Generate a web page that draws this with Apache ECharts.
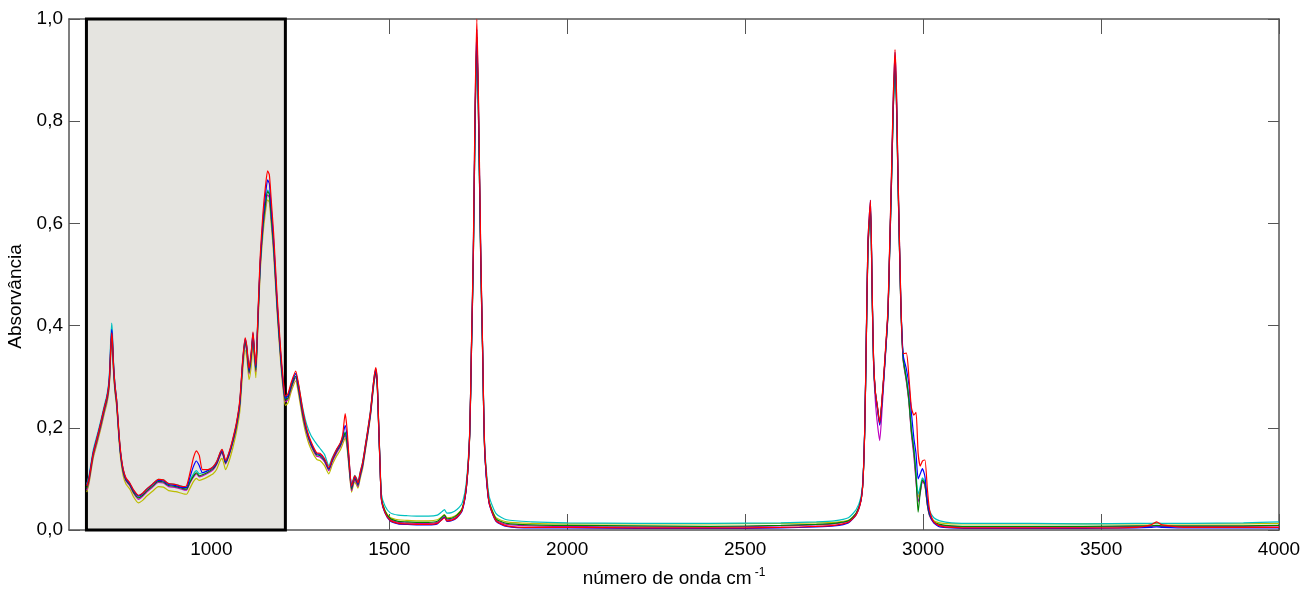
<!DOCTYPE html>
<html>
<head>
<meta charset="utf-8">
<script src="https://cdn.jsdelivr.net/npm/echarts/dist/echarts.min.js"></script>
<style>
html,body{margin:0;padding:0;background:#fff;}
#chart{width:1314px;height:601px;}
</style>
</head>
<body>
<div id="chart"></div>
<script>
// ---- data ----
const wavenumber = [
 650,656,668,680,690,700,706,711,714,717,720,722,725,729,734,740,745,752,760,
 771,782,795,807,818,835,851,865,880,900,920,930,940,950,958,966,975,990,1005,
 1015,1025,1030,1035,1040,1050,1060,1070,1080,1088,1095,1100,1106,1112,1117,1121,1125,1130,1137,
 1145,1152,1158,1163,1168,1175,1185,1195,1203,1208,1215,1225,1237,1245,1257,1268,1280,1296,1305,1318,
 1330,1340,1352,1362,1369,1376,1381,1386,1394,1399,1403,1408,1412,1418,1425,1433,1440,1447,1453,1458,1462,1466,1470,1474,
 1478,1488,1502,1525,1548,1580,1610,1635,1648,1655,1662,1675,1690,1705,1717,1726,1731,1736,1741,1746,1751,1757,1762,1768,1780,
 1800,1830,1900,2000,2200,2400,2600,2700,2750,2790,2812,2825,2831,2836,2840,2845,2852,2857,2861,2866,2872,
 2878,2885,2892,2901,2906,2911,2916,2921,2925,2929,2937,2944,2953,2960,2967,2974,2980,2986,2992,2998,3005,3012,3018,
 3030,3047,3080,3150,3300,3450,3600,3640,3656,3672,3750,3900,4000
];

const olive = [
 0.074,0.090,0.140,0.172,0.200,0.230,0.246,0.266,0.290,0.338,0.368,0.356,0.310,0.270,0.240,0.180,0.140,0.107,0.090,
 0.080,0.064,0.053,0.058,0.066,0.076,0.085,0.084,0.077,0.075,0.071,0.070,0.082,0.095,0.101,0.097,0.099,0.104,0.110,
 0.119,0.136,0.140,0.130,0.118,0.135,0.160,0.190,0.232,0.310,0.352,0.334,0.294,0.320,0.362,0.330,0.298,0.380,0.500,
 0.578,0.622,0.646,0.641,0.600,0.540,0.424,0.325,0.266,0.244,0.248,0.272,0.292,0.266,0.216,0.182,0.158,0.138,0.136,0.126,
 0.110,0.128,0.145,0.156,0.168,0.180,0.162,0.128,0.074,0.088,0.094,0.088,0.082,0.100,0.120,0.156,0.188,0.222,0.262,0.292,0.305,0.282,0.202,0.123,
 0.062,0.038,0.025,0.020,0.019,0.018,0.018,0.020,0.026,0.030,0.024,0.025,0.030,0.043,0.086,0.184,0.352,0.520,0.790,0.955,0.790,0.520,0.352,0.156,0.058,
 0.024,0.016,0.013,0.012,0.012,0.012,0.013,0.014,0.015,0.019,0.033,0.058,0.095,0.196,0.350,0.548,0.625,0.450,0.322,0.266,0.236,
 0.206,0.256,0.322,0.418,0.542,0.674,0.818,0.905,0.838,0.694,0.448,0.332,0.292,0.252,0.192,0.152,0.102,0.064,0.078,0.096,0.088,0.049,0.030,
 0.018,0.014,0.012,0.012,0.012,0.012,0.012,0.012,0.013,0.012,0.012,0.012,0.013
];

const magenta = [
 0.078,0.094,0.144,0.176,0.204,0.234,0.250,0.270,0.294,0.342,0.372,0.360,0.314,0.275,0.245,0.186,0.146,0.113,0.096,
 0.086,0.071,0.060,0.066,0.074,0.084,0.093,0.092,0.085,0.083,0.079,0.078,0.092,0.104,0.110,0.104,0.106,0.111,0.118,
 0.128,0.146,0.151,0.141,0.129,0.146,0.170,0.200,0.244,0.322,0.365,0.347,0.305,0.337,0.377,0.342,0.310,0.392,0.510,
 0.590,0.632,0.656,0.651,0.610,0.550,0.432,0.333,0.273,0.251,0.255,0.278,0.298,0.273,0.223,0.189,0.165,0.144,0.143,0.133,
 0.116,0.134,0.151,0.162,0.174,0.186,0.168,0.132,0.077,0.091,0.098,0.092,0.085,0.104,0.124,0.159,0.190,0.224,0.264,0.294,0.307,0.284,0.204,0.124,
 0.060,0.035,0.021,0.015,0.014,0.013,0.013,0.015,0.022,0.026,0.020,0.021,0.027,0.040,0.085,0.185,0.353,0.522,0.790,0.958,0.790,0.522,0.353,0.155,0.055,
 0.020,0.011,0.008,0.007,0.006,0.006,0.008,0.010,0.012,0.017,0.032,0.057,0.095,0.196,0.352,0.550,0.628,0.450,0.318,0.250,0.205,
 0.175,0.240,0.318,0.418,0.542,0.675,0.818,0.905,0.838,0.695,0.448,0.332,0.290,0.250,0.188,0.145,0.095,0.055,0.072,0.095,0.088,0.048,0.028,
 0.014,0.009,0.007,0.006,0.006,0.006,0.007,0.007,0.008,0.007,0.007,0.007,0.008
];

const cyan = [
 0.090,0.106,0.156,0.188,0.216,0.246,0.262,0.284,0.312,0.368,0.405,0.386,0.330,0.286,0.254,0.192,0.152,0.119,0.101,
 0.091,0.077,0.067,0.072,0.080,0.090,0.099,0.098,0.091,0.089,0.085,0.084,0.098,0.110,0.116,0.110,0.112,0.117,0.124,
 0.134,0.152,0.157,0.147,0.135,0.152,0.176,0.206,0.251,0.328,0.372,0.354,0.312,0.344,0.384,0.349,0.317,0.398,0.518,
 0.598,0.641,0.665,0.660,0.618,0.558,0.440,0.340,0.280,0.258,0.262,0.286,0.306,0.284,0.238,0.206,0.185,0.168,0.160,0.148,
 0.126,0.142,0.158,0.169,0.180,0.192,0.176,0.142,0.086,0.100,0.107,0.101,0.095,0.113,0.133,0.168,0.199,0.233,0.273,0.302,0.315,0.292,0.212,0.133,
 0.070,0.047,0.034,0.029,0.028,0.027,0.027,0.029,0.036,0.040,0.033,0.034,0.040,0.053,0.097,0.195,0.362,0.530,0.798,0.965,0.798,0.530,0.362,0.165,0.068,
 0.032,0.020,0.016,0.014,0.013,0.013,0.014,0.016,0.018,0.024,0.040,0.064,0.100,0.200,0.355,0.553,0.630,0.453,0.324,0.268,0.240,
 0.210,0.258,0.324,0.420,0.545,0.676,0.820,0.910,0.840,0.697,0.452,0.336,0.298,0.258,0.200,0.160,0.110,0.070,0.085,0.102,0.094,0.058,0.038,
 0.024,0.018,0.014,0.013,0.013,0.012,0.013,0.013,0.014,0.013,0.013,0.014,0.016
];

const green = [
 0.082,0.098,0.148,0.180,0.208,0.238,0.254,0.274,0.298,0.348,0.380,0.366,0.318,0.278,0.248,0.188,0.148,0.115,0.098,
 0.088,0.073,0.063,0.068,0.076,0.086,0.095,0.094,0.087,0.085,0.081,0.080,0.094,0.106,0.112,0.106,0.108,0.113,0.120,
 0.130,0.148,0.153,0.143,0.131,0.148,0.172,0.202,0.247,0.325,0.368,0.350,0.308,0.340,0.380,0.345,0.313,0.395,0.515,
 0.595,0.638,0.662,0.657,0.615,0.555,0.436,0.336,0.276,0.254,0.258,0.281,0.301,0.276,0.226,0.192,0.168,0.147,0.146,0.136,
 0.119,0.137,0.154,0.165,0.177,0.190,0.172,0.137,0.080,0.094,0.101,0.095,0.088,0.107,0.127,0.162,0.193,0.227,0.267,0.297,0.310,0.287,0.207,0.127,
 0.062,0.037,0.023,0.017,0.016,0.015,0.015,0.017,0.025,0.029,0.022,0.023,0.029,0.042,0.087,0.187,0.357,0.527,0.797,0.965,0.797,0.527,0.357,0.157,0.057,
 0.022,0.013,0.010,0.009,0.008,0.007,0.009,0.011,0.013,0.018,0.033,0.058,0.096,0.198,0.355,0.555,0.635,0.455,0.325,0.268,0.238,
 0.208,0.258,0.325,0.422,0.547,0.680,0.825,0.915,0.845,0.700,0.452,0.335,0.295,0.255,0.195,0.155,0.105,0.035,0.075,0.098,0.090,0.050,0.030,
 0.016,0.011,0.008,0.007,0.007,0.007,0.008,0.008,0.009,0.008,0.008,0.008,0.009
];

const blue = [
 0.088,0.102,0.152,0.184,0.212,0.242,0.258,0.280,0.306,0.358,0.392,0.376,0.326,0.284,0.252,0.190,0.150,0.118,0.100,
 0.090,0.076,0.066,0.071,0.079,0.089,0.097,0.096,0.089,0.087,0.083,0.083,0.104,0.125,0.135,0.126,0.112,0.116,0.122,
 0.132,0.150,0.155,0.145,0.133,0.150,0.175,0.205,0.250,0.330,0.374,0.356,0.312,0.345,0.386,0.350,0.318,0.400,0.522,
 0.606,0.655,0.685,0.678,0.632,0.566,0.444,0.342,0.280,0.258,0.262,0.286,0.306,0.281,0.230,0.195,0.170,0.149,0.148,0.138,
 0.120,0.138,0.156,0.168,0.182,0.205,0.185,0.145,0.084,0.097,0.104,0.098,0.090,0.109,0.129,0.164,0.195,0.229,0.270,0.300,0.314,0.290,0.209,0.128,
 0.058,0.033,0.018,0.012,0.011,0.010,0.010,0.012,0.021,0.025,0.017,0.018,0.024,0.038,0.086,0.190,0.362,0.538,0.815,0.980,0.815,0.538,0.362,0.160,0.054,
 0.017,0.007,0.004,0.004,0.003,0.003,0.004,0.006,0.008,0.014,0.030,0.057,0.097,0.202,0.362,0.565,0.645,0.460,0.328,0.268,0.236,
 0.205,0.256,0.324,0.424,0.552,0.688,0.838,0.935,0.858,0.710,0.458,0.342,0.315,0.285,0.230,0.180,0.150,0.100,0.110,0.120,0.105,0.058,0.033,
 0.014,0.006,0.004,0.003,0.003,0.003,0.004,0.005,0.006,0.005,0.004,0.004,0.004
];

const red = [
 0.086,0.100,0.150,0.183,0.212,0.242,0.258,0.278,0.302,0.352,0.386,0.372,0.325,0.285,0.254,0.194,0.154,0.120,0.102,
 0.092,0.078,0.068,0.072,0.080,0.090,0.099,0.098,0.091,0.089,0.085,0.086,0.112,0.142,0.155,0.146,0.118,0.118,0.124,
 0.134,0.152,0.158,0.148,0.136,0.153,0.178,0.208,0.255,0.333,0.376,0.358,0.316,0.348,0.388,0.352,0.322,0.405,0.532,
 0.620,0.672,0.703,0.695,0.648,0.580,0.455,0.350,0.286,0.262,0.266,0.290,0.311,0.286,0.234,0.198,0.173,0.151,0.150,0.140,
 0.122,0.140,0.158,0.170,0.186,0.228,0.200,0.150,0.086,0.098,0.106,0.100,0.092,0.112,0.132,0.166,0.198,0.232,0.272,0.303,0.318,0.294,0.212,0.130,
 0.060,0.034,0.019,0.013,0.012,0.011,0.011,0.013,0.020,0.024,0.018,0.019,0.025,0.040,0.088,0.192,0.368,0.545,0.830,1.000,0.830,0.545,0.368,0.162,0.055,
 0.018,0.008,0.005,0.005,0.004,0.004,0.005,0.007,0.009,0.015,0.030,0.056,0.095,0.200,0.360,0.565,0.645,0.462,0.330,0.270,0.240,
 0.210,0.262,0.330,0.430,0.557,0.695,0.845,0.940,0.865,0.715,0.462,0.345,0.346,0.300,0.240,0.225,0.230,0.150,0.125,0.135,0.137,0.080,0.040,
 0.016,0.008,0.005,0.004,0.004,0.004,0.005,0.010,0.016,0.010,0.005,0.005,0.005
];

const seriesNames = ['olive','magenta','cyan','green','blue','red'];
const seriesValues = [olive, magenta, cyan, green, blue, red];
const seriesColors = ['#bcbc00','#c000c0','#00c0c0','#008000','#0000ff','#ff0000'];

const xTickValues = [1000,1500,2000,2500,3000,3500,4000];
const xRange = [600, 4000];
const yRange = [0, 1];
const highlightRange = [649, 1208];

// ---- chart ----
const chart = echarts.init(document.getElementById('chart'), null, {renderer:'canvas'});
const font = "'Liberation Sans',Arial,sans-serif";
const axisColor = '#555555';

const lineSeries = seriesValues.map((vals, i) => ({
  name: seriesNames[i],
  type: 'line',
  xAxisIndex: 0, yAxisIndex: 0,
  data: wavenumber.map((w, j) => [w, vals[j]]),
  showSymbol: false,
  smooth: 0.2,
  lineStyle: {width: 1.2, color: seriesColors[i]},
  itemStyle: {color: seriesColors[i]},
  z: 3 + i,
  silent: true
}));

const areaSeries = {
  name: 'region',
  type: 'line',
  xAxisIndex: 0, yAxisIndex: 0,
  data: [],
  z: 1,
  silent: true,
  markArea: {
    silent: true,
    itemStyle: {color: '#e5e4e0', borderColor: '#000000', borderWidth: 3},
    data: [[{xAxis: highlightRange[0], yAxis: yRange[0]}, {xAxis: highlightRange[1], yAxis: yRange[1]}]]
  }
};

chart.setOption({
  animation: false,
  backgroundColor: '#ffffff',
  grid: {left: 69, right: 35, top: 19, bottom: 71, containLabel: false, outerBoundsMode: 'none'},
  xAxis: [{
    type: 'value', position: 'bottom', min: xRange[0], max: xRange[1],
    axisLine: {show: true, onZero: false, lineStyle: {color: axisColor, width: 1.5}},
    axisTick: {show: true, inside: true, length: 16, customValues: xTickValues, lineStyle: {color: axisColor, width: 1}},
    axisLabel: {show: true, customValues: xTickValues, margin: 10, color: '#000', fontSize: 19, fontFamily: font,
      formatter: v => String(v)},
    splitLine: {show: false},
    name: 'número de onda cm{sup|-1}',
    nameLocation: 'middle', nameGap: 37,
    nameTextStyle: {color: '#000', fontSize: 19, fontFamily: font,
      rich: {sup: {fontSize: 12, fontFamily: font, color: '#000', verticalAlign: 'top', padding: [0,0,12,3]}}}
  }, {
    type: 'value', position: 'top', min: xRange[0], max: xRange[1],
    axisLine: {show: true, onZero: false, lineStyle: {color: axisColor, width: 1.5}},
    axisTick: {show: true, inside: true, length: 15, customValues: xTickValues, lineStyle: {color: axisColor, width: 1}},
    axisLabel: {show: false},
    splitLine: {show: false}
  }],
  yAxis: [{
    type: 'value', position: 'left', min: yRange[0], max: yRange[1], interval: 0.2,
    axisLine: {show: true, onZero: false, lineStyle: {color: axisColor, width: 1.5}},
    axisTick: {show: true, inside: true, length: 11, lineStyle: {color: axisColor, width: 1}},
    axisLabel: {show: true, margin: 6, color: '#000', fontSize: 19, fontFamily: font,
      formatter: v => v.toFixed(1).replace('.', ',')},
    splitLine: {show: false},
    name: 'Absorvância', nameLocation: 'middle', nameGap: 19,
    nameTextStyle: {color: '#000', fontSize: 19, fontFamily: font, padding: [0, 44, 0, 0]}
  }, {
    type: 'value', position: 'right', min: yRange[0], max: yRange[1], interval: 0.2,
    axisLine: {show: true, onZero: false, lineStyle: {color: axisColor, width: 1.5}},
    axisTick: {show: true, inside: true, length: 11, lineStyle: {color: axisColor, width: 1}},
    axisLabel: {show: false},
    splitLine: {show: false}
  }],
  series: [areaSeries].concat(lineSeries)
});
</script>
</body>
</html>
